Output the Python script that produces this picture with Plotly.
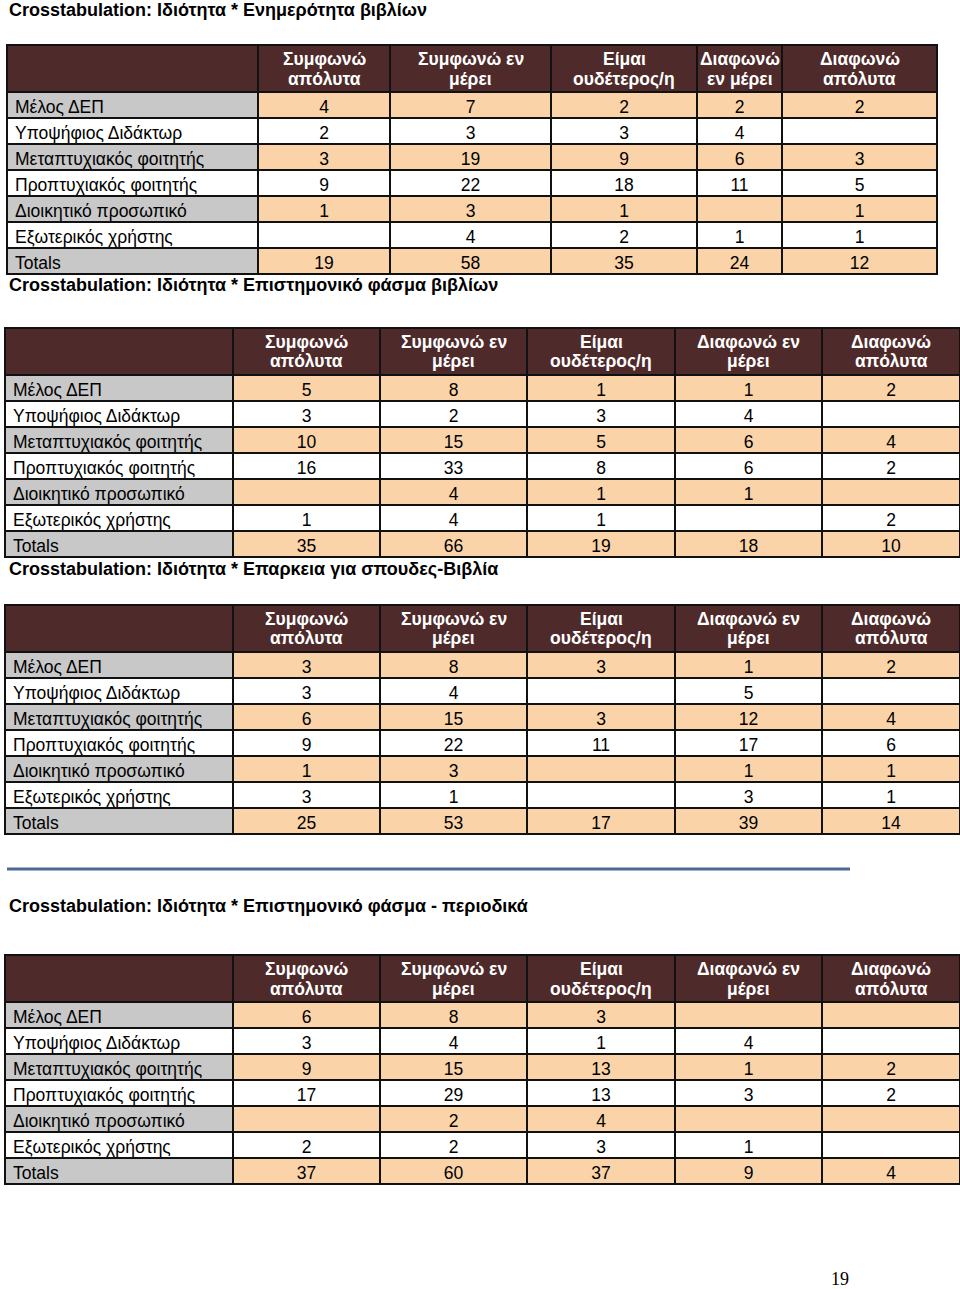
import plotly.graph_objects as go

# ---------------- data ----------------
row_labels = ["Μέλος ΔΕΠ", "Υποψήφιος Διδάκτωρ", "Μεταπτυχιακός φοιτητής",
              "Προπτυχιακός φοιτητής", "Διοικητικό προσωπικό", "Εξωτερικός χρήστης", "Totals"]

headers_t1 = ["Συμφωνώ<br>απόλυτα", "Συμφωνώ εν<br>μέρει", "Είμαι<br>ουδέτερος/η",
              "Διαφωνώ<br>εν μέρει", "Διαφωνώ<br>απόλυτα"]
headers_t234 = ["Συμφωνώ<br>απόλυτα", "Συμφωνώ εν<br>μέρει", "Είμαι<br>ουδέτερος/η",
                "Διαφωνώ εν<br>μέρει", "Διαφωνώ<br>απόλυτα"]

titles = [
    "Crosstabulation: Ιδιότητα * Ενημερότητα βιβλίων",
    "Crosstabulation: Ιδιότητα * Επιστημονικό φάσμα βιβλίων",
    "Crosstabulation: Ιδιότητα * Επαρκεια για σπουδες-Βιβλία",
    "Crosstabulation: Ιδιότητα * Επιστημονικό φάσμα - περιοδικά",
]

# rows: one list per respondent group, values per answer column ("" = empty cell)
t1_values = [
    [4, 7, 2, 2, 2],
    [2, 3, 3, 4, ""],
    [3, 19, 9, 6, 3],
    [9, 22, 18, 11, 5],
    [1, 3, 1, "", 1],
    ["", 4, 2, 1, 1],
    [19, 58, 35, 24, 12],
]
t2_values = [
    [5, 8, 1, 1, 2],
    [3, 2, 3, 4, ""],
    [10, 15, 5, 6, 4],
    [16, 33, 8, 6, 2],
    ["", 4, 1, 1, ""],
    [1, 4, 1, "", 2],
    [35, 66, 19, 18, 10],
]
t3_values = [
    [3, 8, 3, 1, 2],
    [3, 4, "", 5, ""],
    [6, 15, 3, 12, 4],
    [9, 22, 11, 17, 6],
    [1, 3, "", 1, 1],
    [3, 1, "", 3, 1],
    [25, 53, 17, 39, 14],
]
t4_values = [
    [6, 8, 3, "", ""],
    [3, 4, 1, 4, ""],
    [9, 15, 13, 1, 2],
    [17, 29, 13, 3, 2],
    ["", 2, 4, "", ""],
    [2, 2, 3, 1, ""],
    [37, 60, 37, 9, 4],
]
page_number = "19"

# ---------------- style ----------------
W, H = 960, 1289
HEADER_BG = "#4e2a2a"
PEACH = "#fad3a8"
GREY = "#c8c8c8"
WHITE = "#ffffff"
LINE = "#111111"
FONT = "Liberation Sans, Arial, sans-serif"

HEADER_H = 47
ROW_H = 26


def px_x(x):
    return x / W


def px_y(y):
    return 1 - y / H


fig = go.Figure()


def add_table(headers, values, x0, top, widths):
    n_rows = len(values)
    n_cols = len(headers)
    x1 = x0 + sum(widths)
    cols = [row_labels] + [[r[c] for r in values] for c in range(n_cols)]
    shaded = [i % 2 == 0 for i in range(n_rows)]
    label_fill = [GREY if s else WHITE for s in shaded]
    data_fill = [PEACH if s else WHITE for s in shaded]
    fills = [label_fill] + [data_fill] * n_cols
    bottom = top + HEADER_H + ROW_H * n_rows + 12
    fig.add_trace(go.Table(
        domain=dict(x=[px_x(x0), min(1, px_x(x1))], y=[px_y(bottom), px_y(top)]),
        columnwidth=widths,
        header=dict(
            values=[""] * (n_cols + 1),
            fill_color=HEADER_BG,
            line=dict(color=LINE, width=2),
            height=HEADER_H,
            font=dict(family=FONT, size=17, color="white"),
        ),
        cells=dict(
            values=cols,
            fill_color=fills,
            line=dict(color=LINE, width=2),
            align=["left"] + ["center"] * n_cols,
            height=ROW_H,
            font=dict(family=FONT, size=17.5, color="black"),
        ),
    ))
    # header labels, each line centred in its column
    xc = x0 + widths[0]
    yc = top + HEADER_H / 2
    for label, w in zip(headers, widths[1:]):
        lines = label.split("<br>")
        for j, ln in enumerate(lines):
            fig.add_annotation(
                text=f"<b>{ln}</b>", xref="paper", yref="paper",
                x=px_x(xc + w / 2), y=px_y(yc + (j - (len(lines) - 1) / 2) * 20),
                xanchor="center", yanchor="middle", showarrow=False,
                font=dict(family=FONT, size=17.5, color="white"),
            )
        xc += w


add_table(headers_t1, t1_values, 7, 45, [251, 132, 161, 146, 85, 155])
w234 = [228, 147, 147, 148, 147, 138]
add_table(headers_t234, t2_values, 5, 328, w234)
add_table(headers_t234, t3_values, 5, 605, w234)
add_table(headers_t234, t4_values, 5, 955, w234)

title_y = [10, 285, 569, 906]
for i, (t, y) in enumerate(zip(titles, title_y)):
    fig.add_annotation(
        text=f"<b>{t}</b>", xref="paper", yref="paper", x=px_x(7), y=px_y(y),
        xanchor="left", yanchor="middle", showarrow=False,
        font=dict(family=FONT, size=18, color="black"),
    )

fig.add_shape(type="line", xref="paper", yref="paper",
              x0=px_x(7), x1=px_x(850), y0=px_y(869), y1=px_y(869),
              line=dict(color="#4a6a91", width=3))

fig.add_annotation(text=page_number, xref="paper", yref="paper", x=px_x(840), y=px_y(1279),
                   xanchor="center", yanchor="middle", showarrow=False,
                   font=dict(family="Liberation Serif, serif", size=18, color="black"))

fig.update_layout(width=W, height=H, margin=dict(l=0, r=0, t=0, b=0),
                  paper_bgcolor="white", plot_bgcolor="white")

fig.write_html("out.html", config={"displayModeBar": False},
               post_script="document.body.style.margin='0';")
